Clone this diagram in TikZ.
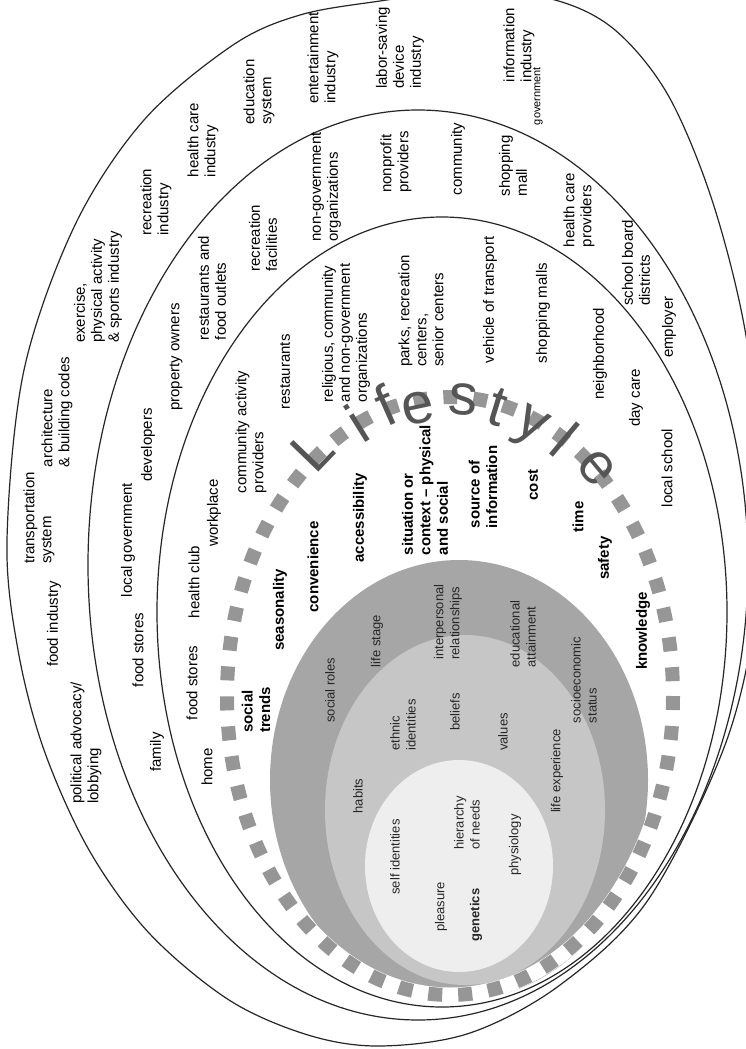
\documentclass[tikz,border=0pt]{standalone}
\usepackage{fontspec}
\setmainfont{Liberation Sans}
\definecolor{gone}{RGB}{166,166,166}
\definecolor{gtwo}{RGB}{198,198,198}
\definecolor{gthree}{RGB}{238,238,238}
\definecolor{sq}{RGB}{150,150,150}
\definecolor{lettc}{RGB}{85,85,85}
\begin{document}
\begin{tikzpicture}[x=1pt,y=-1pt,
  lbl/.style={rotate=90, align=left, inner sep=0pt, font=\fontsize{15}{17}\selectfont},
  blbl/.style={rotate=90, align=left, inner sep=0pt, font=\fontsize{15}{17.5}\selectfont\bfseries},
  ilbl/.style={rotate=90, align=left, inner sep=0pt, font=\fontsize{13}{16}\selectfont, text=black!85},
  ring/.style={draw=black!85, line width=1.2pt},
  lett/.style={inner sep=0pt, font=\fontsize{58}{58}\selectfont, text=lettc}]
\useasboundingbox (0,0) rectangle (746,1049);
\fill[white] (0,0) rectangle (746,1049);
\clip (0,0) rectangle (746,1049);

% filled inner ellipses
\fill[gone] (459,780) ellipse [x radius=189, y radius=220];
\fill[gtwo] (465,810) ellipse [x radius=140, y radius=175];
\fill[gthree] (459,866) ellipse [x radius=94, y radius=106];

% dashed ring
\draw[white, line width=15pt] (450,696) ellipse [x radius=223, y radius=299];
\draw[sq, line width=14pt, dash pattern=on 14pt off 16pt] (450,696) ellipse [x radius=223, y radius=299];

% outer shapes
\draw[ring] plot[smooth cycle, tension=0.55] coordinates {
  (7,540) (24,370) (75,225) (144,120) (233,45) (300,15) (380,1) (470,-10)
  (555,0) (615,30) (668,95) (712,200) (745,330) (760,470) (756,610)
  (725,745) (648,900) (560,985) (470,1033) (380,1046) (308,1035)
  (229,1000) (149,933) (89,850) (44,750) (18,650)};
\draw[ring] (418,565) ellipse [x radius=330, y radius=455];
\draw[ring] (442,612) ellipse [x radius=285, y radius=395];

% Lifestyle
\node[lett, rotate=46] (lL) at (312,450) {L};
\node[lett, rotate=32] (li) at (357,423) {i};
\node[lett, rotate=24] (lf) at (385,405) {f};
\node[lett, rotate=12] (le) at (418,408) {e};
\node[lett, rotate=-5] (ls2) at (463,400) {s};
\node[lett, rotate=-17] (lt) at (498,407) {t};
\node[lett, rotate=-29] (ly) at (530,428) {y};
\node[lett, rotate=-40] (ll) at (565,440) {l};
\node[lett, rotate=-50] (le2) at (597,468) {e};

% ring 1
\node[lbl] (pa) at (86,743) {political advocacy/\\lobbying};
\node[lbl] (fi) at (54,624) {food industry};
\node[lbl] (ts) at (39,518) {transportation\\system};
\node[lbl] (ab) at (57,412) {architecture\\\& building codes};
\node[lbl] (ex) at (98,287) {exercise,\\physical activity\\\& sports industry};
\node[lbl] (ri) at (156,202) {recreation\\industry};
\node[lbl] (hci) at (203,140) {health care\\industry};
\node[lbl] (es) at (259,92) {education\\system};
\node[lbl] (ei) at (323,58) {entertainment\\industry};
\node[lbl] (lsd) at (400,48) {labor-saving\\device\\industry};
\node[lbl] (ii) at (519,45) {information\\industry};
\node[lbl, font=\fontsize{11}{13}\selectfont] (gov) at (538,96) {government};

% ring 2
\node[lbl] (fam) at (157,752) {family};
\node[lbl] (fsa) at (138,650) {food stores};
\node[lbl] (lg) at (128,540) {local government};
\node[lbl] (dev) at (148,445) {developers};
\node[lbl] (po) at (176,357) {property owners};
\node[lbl] (rfo) at (212,288) {restaurants and\\food outlets};
\node[lbl] (rf) at (263,238) {recreation\\facilities};
\node[lbl] (ngo) at (326,187) {non-government\\organizations};
\node[lbl] (np) at (396,162) {nonprofit\\providers};
\node[lbl] (com) at (458,159) {community};
\node[lbl] (sm) at (513,166) {shopping\\mall};
\node[lbl] (hcp) at (579,210) {health care\\providers};
\node[lbl] (sbd) at (636,263) {school board\\districts};
\node[lbl] (emp) at (669,327) {employer};

% ring 3
\node[lbl] (home) at (207,767) {home};
\node[lbl] (fsb) at (192,683) {food stores};
\node[lbl] (hc) at (194,582) {health club};
\node[lbl] (wp) at (214,513) {workplace};
\node[lbl] (cap) at (251,432) {community activity\\providers};
\node[lbl] (rest) at (285,372) {restaurants};
\node[lbl] (rel) at (346,333) {religious, community\\and non-government\\organizations};
\node[lbl] (parks) at (421,311) {parks, recreation\\centers,\\senior centers};
\node[lbl] (veh) at (490,300) {vehicle of transport};
\node[lbl] (smalls) at (543,313) {shopping malls};
\node[lbl] (nb) at (600,354) {neighborhood};
\node[lbl] (dc) at (636,398) {day care};
\node[lbl] (lsch) at (667,468) {local school};

% bold factors
\node[blbl] (st) at (256,710) {social\\trends};
\node[blbl] (sea) at (280,610) {seasonality};
\node[blbl] (conv) at (313,567) {convenience};
\node[blbl] (acc) at (360,518) {accessibility};
\node[blbl] (sit) at (425,490) {situation or\\context -- physical\\and social};
\node[blbl] (src) at (483,487) {source of\\information};
\node[blbl] (cost) at (533,485) {cost};
\node[blbl] (time) at (578,517) {time};
\node[blbl] (saf) at (605,558) {safety};
\node[blbl] (kn) at (643,631) {knowledge};

% dark gray ellipse
\node[ilbl] (sr) at (330,690) {social roles};
\node[ilbl] (lst) at (377,641) {life stage};
\node[ilbl] (ir) at (448,622) {interpersonal\\relationships};
\node[ilbl] (ea) at (523,634) {educational\\attainment};
\node[ilbl] (ses) at (584,680) {socioeconomic\\status};

% middle gray ellipse
\node[ilbl] (hab) at (358,796) {habits};
\node[ilbl] (eth) at (403,725) {ethnic\\identities};
\node[ilbl] (bel) at (455,712) {beliefs};
\node[ilbl] (val) at (503,732) {values};
\node[ilbl] (lex) at (557,771) {life experience};

% light ellipse
\node[ilbl] (si) at (395,857) {self identities};
\node[ilbl] (hn) at (467,823) {hierarchy\\of needs};
\node[ilbl] (pl) at (441,907) {pleasure};
\node[ilbl, font=\fontsize{13}{16}\selectfont\bfseries] (gen) at (476,915) {genetics};
\node[ilbl] (phy) at (515,845) {physiology};
\end{tikzpicture}
\end{document}
